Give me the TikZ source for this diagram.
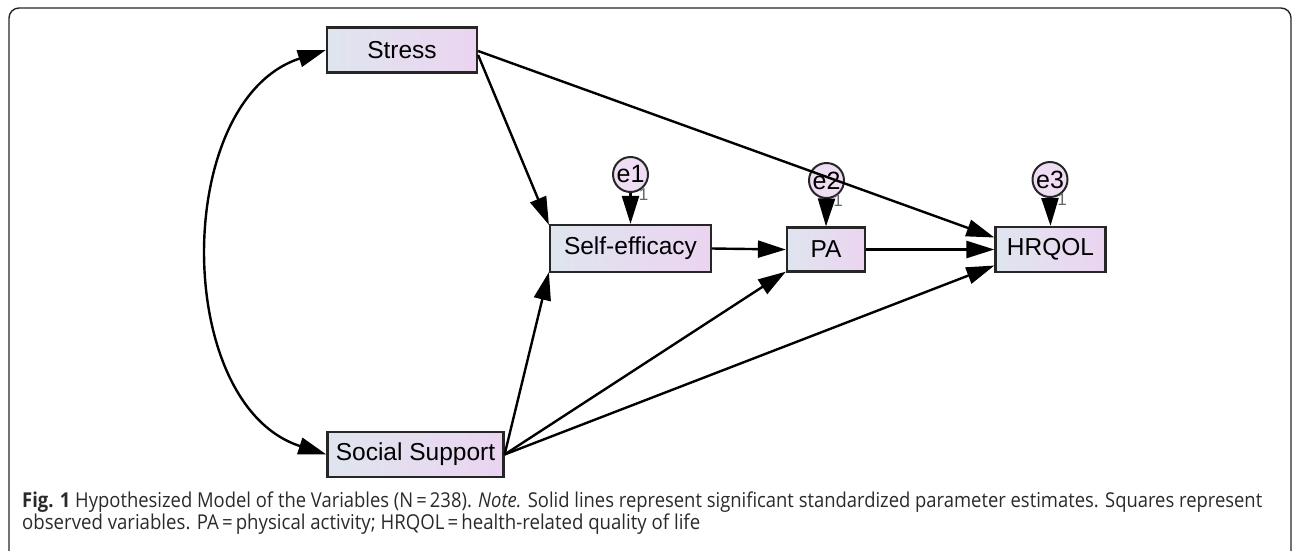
\documentclass[tikz,border=0pt]{standalone}
\usepackage{fontspec}
\setmainfont{Liberation Sans}
\newfontfamily\capfont{Open Sans}
\usetikzlibrary{arrows.meta,calc}
\definecolor{boxL}{HTML}{DFE5EE}
\definecolor{boxR}{HTML}{EBD4F1}
\definecolor{errfill}{HTML}{EEDDF3}
\definecolor{captxt}{HTML}{2A2A2A}
\tikzset{
  varbox/.style={draw=black!85, line width=2.2pt, left color=boxL, right color=boxR,
    inner sep=0pt, font=\fontsize{24.5}{28}\selectfont},
  errc/.style={circle, draw=black!85, line width=2pt, fill=errfill, minimum size=35pt,
    inner sep=0pt, font=\fontsize{25}{28}\selectfont},
  path/.style={line width=2.4pt, -{Triangle[length=28pt,width=17pt]}},
  one/.style={font=\fontsize{17}{18}\selectfont, text=black!60, inner sep=0pt},
  capline/.style={anchor=base west, inner sep=0pt, text=captxt,
    font=\capfont\fontsize{20.5}{24}\selectfont}
}
\begin{document}
\begin{tikzpicture}[x=1pt,y=-1pt]
\useasboundingbox (0,0) rectangle (1292,550);
\clip (0,0) rectangle (1292,550);
\draw[line width=1.4pt, rounded corners=10pt, black!85] (9,8) rectangle (1291,572);

\node[varbox, minimum width=150pt, minimum height=45pt] (st) at (402,50) {Stress};
\node[varbox, minimum width=161pt, minimum height=47pt] (se) at (630.5,248.5) {Self-efficacy};
\node[varbox, minimum width=78pt, minimum height=44pt] (pa) at (826,249.5) {PA};
\node[varbox, minimum width=110pt, minimum height=45pt] (hr) at (1050.5,249.5) {HRQOL};
\node[varbox, minimum width=176pt, minimum height=45pt] (ss) at (415.5,454.5) {Social Support};

\node[errc] (e1) at (630.5,174.5) {e1};
\node[errc] (e2) at (826.5,180.5) {e2};
\node[errc] (e3) at (1050,179.5) {e3};

\node[one] (o1) at (643.5,195) {1};
\node[one] (o2) at (838,201) {1};
\node[one] (o3) at (1062,200) {1};

% error arrows
\draw[path] (e1.south) -- (se.north);
\draw[path] (e2.south) -- (pa.north);
\draw[path] (e3.south) -- (hr.north);

% structural paths
\draw[path] ($(st.east)+(0,1)$) -- ($(hr.west)+(0,-12)$);
\draw[path] ($(st.east)+(0,5)$) -- ($(se.north west)+(0,1)$);
\draw[path] (se.east) -- (pa.west);
\draw[path] (pa.east) -- (hr.west);
\draw[path] (ss.east) -- ($(se.south west)+(0,-1)$);
\draw[path] (ss.east) -- ($(pa.south west)+(0,-1)$);
\draw[path] (ss.east) -- ($(hr.west)+(0,16)$);

% covariance
\draw[line width=2.4pt, {Triangle[length=28pt,width=17pt]}-{Triangle[length=28pt,width=17pt]}]
  (st.west) .. controls (172,100) and (172,405) .. (ss.west);

% caption
\node[capline] (cap1) at (22,507) {\resizebox{1240pt}{\height}{\textbf{Fig. 1} Hypothesized Model of the Variables (N\,=\,238). \textit{Note.} Solid lines represent significant standardized parameter estimates. Squares represent}};
\node[capline] (cap2) at (22,529.5) {\resizebox{678pt}{\height}{observed variables. PA\,=\,physical activity; HRQOL\,=\,health-related quality of life}};
\end{tikzpicture}
\end{document}
